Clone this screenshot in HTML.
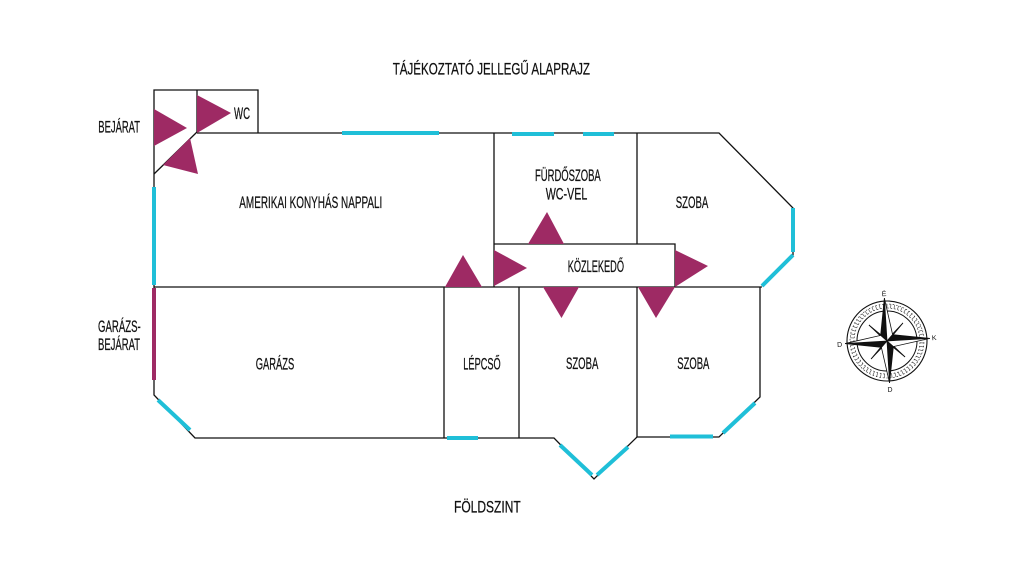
<!DOCTYPE html>
<html><head><meta charset="utf-8"><style>
html,body{margin:0;padding:0;background:#fff;}
svg{display:block;}
text{font-family:"Liberation Sans Narrow","Liberation Sans",sans-serif;font-size:17px;fill:#111;stroke:#111;stroke-width:0.25;}
</style></head><body>
<svg width="1024" height="576" viewBox="0 0 1024 576" xmlns="http://www.w3.org/2000/svg">
<rect width="1024" height="576" fill="#fff"/>
<!-- walls -->
<g stroke="#111" stroke-width="1.3" fill="none" stroke-linejoin="miter">
  <polyline points="154,287 154,90 258,90 258,133"/>
  <line x1="197" y1="90" x2="197" y2="133"/>
  <line x1="154" y1="174" x2="197" y2="132"/>
  <polyline points="197,133 719,133 793,208 793,255 762,286"/>
  <line x1="154" y1="287" x2="762" y2="287"/>
  <line x1="494" y1="133" x2="494" y2="287"/>
  <line x1="637" y1="133" x2="637" y2="244"/>
  <polyline points="494,244 675,244 675,287"/>
  <line x1="444" y1="287" x2="444" y2="438"/>
  <line x1="519" y1="287" x2="519" y2="438"/>
  <line x1="637" y1="287" x2="637" y2="437"/>
  <polyline points="154,287 154,395 195,438 554,438 594,479 637,437 719,437 760,397 760,287"/>
</g>
<!-- windows -->
<g stroke="#1fbfd8" stroke-width="4" fill="none">
  <line x1="342" y1="133" x2="439" y2="133"/>
  <line x1="512" y1="134" x2="554" y2="134"/>
  <line x1="583" y1="134" x2="614" y2="134"/>
  <line x1="154" y1="187" x2="154" y2="285"/>
  <line x1="793" y1="208" x2="793" y2="252"/>
  <line x1="793" y1="255" x2="762" y2="286"/>
  <line x1="158" y1="400" x2="190" y2="430"/>
  <line x1="447" y1="438" x2="478" y2="438"/>
  <line x1="560" y1="445" x2="592" y2="475"/>
  <line x1="597" y1="475" x2="628" y2="447"/>
  <line x1="670" y1="436.5" x2="713" y2="436.5"/>
  <line x1="723" y1="433" x2="755" y2="403"/>
</g>
<line x1="154" y1="288" x2="154" y2="380" stroke="#9e2a64" stroke-width="4"/>
<!-- door triangles -->
<g fill="#9e2a64">
  <polygon points="154,109 154,146 187,128"/>
  <polygon points="163,165 190,138 198,174"/>
  <polygon points="197,95 197,133 231,113"/>
  <polygon points="445,287 482,287 463,255"/>
  <polygon points="528,244 564,244 547,212"/>
  <polygon points="494,250 494,286 527,268"/>
  <polygon points="675,250 675,287 708,266"/>
  <polygon points="543,287 579,287 561.5,318"/>
  <polygon points="638,287 675,287 656,318"/>
</g>
<!-- labels -->
<text x="392.7" y="74.3" textLength="197.3" lengthAdjust="spacingAndGlyphs">TÁJÉKOZTATÓ JELLEGŰ ALAPRAJZ</text>
<text x="234" y="118.9" textLength="16" lengthAdjust="spacingAndGlyphs">WC</text>
<text x="98.3" y="132.5" textLength="41.7" lengthAdjust="spacingAndGlyphs">BEJÁRAT</text>
<text x="239.3" y="208.2" textLength="143" lengthAdjust="spacingAndGlyphs">AMERIKAI KONYHÁS NAPPALI</text>
<text x="535" y="181.2" textLength="65.7" lengthAdjust="spacingAndGlyphs">FÜRDŐSZOBA</text>
<text x="545.7" y="199.5" textLength="41.6" lengthAdjust="spacingAndGlyphs">WC-VEL</text>
<text x="675.7" y="207.8" textLength="32.6" lengthAdjust="spacingAndGlyphs">SZOBA</text>
<text x="567.7" y="272.2" textLength="56.3" lengthAdjust="spacingAndGlyphs">KÖZLEKEDŐ</text>
<text x="98" y="331.9" textLength="42.7" lengthAdjust="spacingAndGlyphs">GARÁZS-</text>
<text x="98" y="350.2" textLength="42" lengthAdjust="spacingAndGlyphs">BEJÁRAT</text>
<text x="255.7" y="369.5" textLength="38.6" lengthAdjust="spacingAndGlyphs">GARÁZS</text>
<text x="463.3" y="369.5" textLength="37.4" lengthAdjust="spacingAndGlyphs">LÉPCSŐ</text>
<text x="566" y="368.8" textLength="32.3" lengthAdjust="spacingAndGlyphs">SZOBA</text>
<text x="677.3" y="368.8" textLength="32" lengthAdjust="spacingAndGlyphs">SZOBA</text>
<text x="454" y="512.5" textLength="66.7" lengthAdjust="spacingAndGlyphs">FÖLDSZINT</text>
<!-- compass -->
<g transform="translate(887,341) rotate(-3.5)">
  <circle r="40" fill="none" stroke="#111" stroke-width="1.1"/>
  <circle r="37" fill="none" stroke="#111" stroke-width="0.6" stroke-dasharray="1.5 2"/>
  <circle r="35" fill="none" stroke="#111" stroke-width="4" stroke-dasharray="0.7 3" opacity="0.7"/>
  <circle r="33" fill="none" stroke="#111" stroke-width="0.6" stroke-dasharray="1.5 2"/>
  <circle r="30" fill="none" stroke="#111" stroke-width="1"/>
  <g stroke="#111" stroke-width="0.8" stroke-linejoin="miter">
    <g>
      <polygon points="0,0 17,-17 3,-4" fill="#111"/><polygon points="0,0 17,-17 4,-3" fill="#fff"/>
      <polygon points="0,0 17,17 4,3" fill="#111"/><polygon points="0,0 17,17 3,4" fill="#fff"/>
      <polygon points="0,0 -17,17 -3,4" fill="#111"/><polygon points="0,0 -17,17 -4,3" fill="#fff"/>
      <polygon points="0,0 -17,-17 -4,-3" fill="#111"/><polygon points="0,0 -17,-17 -3,-4" fill="#fff"/>
    </g>
    <polygon points="0,0 0,-43 -6,-6" fill="#111"/><polygon points="0,0 0,-43 6,-6" fill="#fff"/>
    <polygon points="0,0 43,0 6,-6" fill="#111"/><polygon points="0,0 43,0 6,6" fill="#fff"/>
    <polygon points="0,0 0,42 6,6" fill="#111"/><polygon points="0,0 0,42 -6,6" fill="#fff"/>
    <polygon points="0,0 -42,0 -6,6" fill="#111"/><polygon points="0,0 -42,0 -6,-6" fill="#fff"/>
  </g>
  <text x="0" y="-45" text-anchor="middle" style="font-size:7px;stroke-width:0">É</text>
  <text x="0" y="51" text-anchor="middle" style="font-size:7px;stroke-width:0">D</text>
  <text x="45" y="2" style="font-size:7px;stroke-width:0">K</text>
  <text x="-50" y="3" style="font-size:7px;stroke-width:0">D</text>
</g>
</svg>
</body></html>
